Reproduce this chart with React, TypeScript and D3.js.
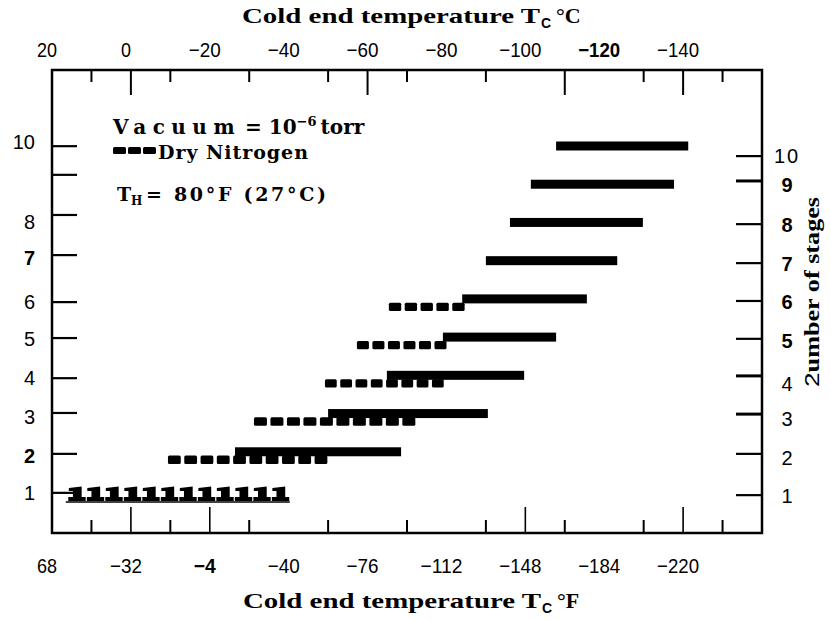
import React from 'react';
import * as d3 from 'd3';

// stage bars, temperatures in deg C
const vacStages = [2, 3, 4, 5, 6, 7, 8, 9, 10];
const vacStart = [-26.4, -50, -64.9, -79.1, -84, -90, -96.1, -101.4, -107.8];
const vacEnd = [-68.5, -90.5, -99.7, -107.8, -115.6, -123.3, -129.8, -137.7, -141.3];

const n2Stages = [2, 3, 4, 5, 6];
const n2Start = [-9.4, -31.2, -49.2, -57.3, -65.4];
const n2End = [-50.7, -73, -80.2, -80.9, -85.5];

const oneStage = [1];
const oneStart = [16];
const oneEnd = [-40.3];

// axes
const topLabels = [20, 0, -20, -40, -60, -80, -100, -120, -140];
const bottomLabels = ['68', '\u221232', '\u22124', '\u221240', '\u221276', '\u2212112', '\u2212148', '\u2212184', '\u2212220'];
const topTicksLong = [0, -60, -110, -140];
const topTicksShort = [10, -10, -30, -50, -70, -90, -130, -150];
const bottomTicksLong = [0, -20, -100, -140];
const bottomTicksShort = [10, -10, -30, -50, -70, -90, -110, -130, -150];

const leftTicks = [10.1, 9.35, 8.3, 7.25, 6.02, 5.08, 4.03, 3.12, 2.05, 1.03];
const leftLabels = ['10', '8', '7', '6', '5', '4', '3', '2', '1'];
const leftLabelPos = [10.22, 8.13, 7.19, 6.03, 5.06, 4.05, 3.02, 2.0, 1.04];
const leftBold = ['7', '2'];

const rightTicks = [9.84, 9.19, 8.06, 7.04, 6.05, 5.06, 4.09, 3.09, 2.05, 0.97];
const rightLabels = ['10', '9', '8', '7', '6', '5', '4', '3', '2', '1'];
const rightLabelPos = [9.84, 9.09, 8.04, 7.02, 6.02, 5.0, 3.88, 2.96, 1.94, 0.95];
const rightBold = ['9', '8', '7', '6', '5'];

const fmt = (v: number) => (v < 0 ? '\u2212' + -v : String(v));
// narrow look of the printed numbers
const numWidth = (s: string) => s.split('').reduce((a, c) => a + (c === '\u2212' ? 12 : 10), 0);

const App = () => {
  const width = 831;
  const height = 621;
  const left = 52, right = 762, top = 70, bottom = 533;

  const x = d3.scaleLinear().domain([20, -160]).range([left, right]);
  const y = d3.scaleLinear().domain([1, 10]).range([494, 150]);

  const sans = 'Liberation Sans, Arial, sans-serif';
  const serif = 'Liberation Serif, Times New Roman, serif';
  const legendFont = 'DejaVu Serif, serif';

  // dashed (dry nitrogen) bars as blocks
  const dashBlocks: { x: number; y: number; w: number }[] = [];
  n2Stages.forEach((s, i) => {
    const x0 = x(n2Start[i]);
    const x1 = x(n2End[i]);
    const n = Math.max(1, Math.round((x1 - x0) / 16.3));
    const p = (x1 - x0) / n;
    d3.range(n).forEach((k) => dashBlocks.push({ x: x0 + k * p, y: y(s) + 4, w: p - 3.5 }));
  });

  // single stage: row of "1" glyph shapes
  const glyphs: { x: number; y: number; w: number }[] = [];
  oneStage.forEach((s, i) => {
    const x0 = x(oneStart[i]);
    const x1 = x(oneEnd[i]);
    const n = 12;
    const p = (x1 - x0) / n;
    d3.range(n).forEach((k) => glyphs.push({ x: x0 + k * p, y: y(s), w: p }));
  });
  const glyphPath = (g: { x: number; y: number; w: number }) => {
    const s = g.w / 18;
    const x0 = g.x, y0 = g.y - 7.5;
    const pts: [number, number][] = [
      [1, 1.5], [13.5, 0], [13.5, 10.5], [17.4, 10.5], [17.4, 14.5], [0.5, 14.5], [0.5, 10.5], [5, 10.5], [5, 4.5], [1, 4.5],
    ];
    return 'M' + pts.map(([a, b]) => `${x0 + a * s},${y0 + b}`).join('L') + 'Z';
  };

  return (
    <svg width={width} height={height} style={{ position: 'absolute', left: 0, top: 0, background: '#fff' }}>
      {/* titles */}
      <text x={242} y={23} fontFamily={serif} fontWeight="bold" fontSize={22} textLength={298} lengthAdjust="spacingAndGlyphs">
        Cold  end  temperature  T
      </text>
      <text x={541} y={28} fontFamily={sans} fontWeight="bold" fontSize={14}>C</text>
      <text x={556} y={23} fontFamily={serif} fontWeight="bold" fontSize={22}>°C</text>

      <text x={243} y={608} fontFamily={serif} fontWeight="bold" fontSize={22} textLength={298} lengthAdjust="spacingAndGlyphs">
        Cold  end  temperature  T
      </text>
      <text x={542} y={613} fontFamily={sans} fontWeight="bold" fontSize={14}>C</text>
      <text x={557} y={608} fontFamily={serif} fontWeight="bold" fontSize={22}>°F</text>

      {/* frame */}
      <rect x={left} y={top} width={right - left} height={bottom - top} fill="none" stroke="#000" strokeWidth={2.5} />

      {/* top ticks */}
      {topTicksLong.map((t) => (
        <line key={'tl' + t} x1={x(t)} x2={x(t)} y1={top} y2={top + 25} stroke="#000" strokeWidth={2} />
      ))}
      {topTicksShort.map((t) => (
        <line key={'ts' + t} x1={x(t)} x2={x(t)} y1={top} y2={top + 12} stroke="#000" strokeWidth={2} />
      ))}
      {/* bottom ticks */}
      {bottomTicksLong.map((t) => (
        <line key={'bl' + t} x1={x(t)} x2={x(t)} y1={bottom} y2={bottom - 26} stroke="#000" strokeWidth={1.6} />
      ))}
      {bottomTicksShort.map((t) => (
        <line key={'bs' + t} x1={x(t)} x2={x(t)} y1={bottom} y2={bottom - 13} stroke="#000" strokeWidth={2} />
      ))}

      {/* top labels */}
      {topLabels.map((t) => (
        <text key={'tt' + t} x={x(t) - 5} y={57} textAnchor="middle" fontFamily={sans} fontSize={21}
          fontWeight={t === -120 ? 'bold' : 'normal'} textLength={numWidth(fmt(t))} lengthAdjust="spacingAndGlyphs">
          {fmt(t)}
        </text>
      ))}
      {/* bottom labels (printed F values) */}
      {bottomLabels.map((l, i) => (
        <text key={'bt' + i} x={x(topLabels[i]) - 5} y={573} textAnchor="middle" fontFamily={sans} fontSize={21}
          fontWeight={l === '\u22124' ? 'bold' : 'normal'} textLength={numWidth(l)} lengthAdjust="spacingAndGlyphs">
          {l}
        </text>
      ))}

      {/* left axis */}
      {leftTicks.map((s, i) => (
        <line key={'lt' + i} x1={left} x2={left + 25} y1={y(s)} y2={y(s)} stroke="#000" strokeWidth={2.2} />
      ))}
      {leftLabels.map((l, i) => (
        <text key={'ll' + i} x={35} y={y(leftLabelPos[i])} dy="0.36em" textAnchor="end" fontFamily={sans} fontSize={20}
          fontWeight={leftBold.includes(l) ? 'bold' : 'normal'}>
          {l}
        </text>
      ))}

      {/* right axis */}
      {rightTicks.map((s, i) => (
        <line key={'rt' + i} x1={right - 26} x2={right} y1={y(s)} y2={y(s)} stroke="#000"
          strokeWidth={i === 1 || i === 6 || i === 7 ? 3 : 2.2} />
      ))}
      {rightLabels.map((l, i) => (
        <text key={'rl' + i} x={787} y={y(rightLabelPos[i])} dy="0.36em" textAnchor="middle" fontFamily={sans} fontSize={20}
          fontWeight={rightBold.includes(l) ? 'bold' : 'normal'} letterSpacing={l === '10' ? 2 : 0}>
          {l}
        </text>
      ))}
      <text transform="translate(812,292) rotate(-90)" textAnchor="middle" dy="0.35em" fontFamily={serif}
        fontWeight="bold" fontSize={21} textLength={190} lengthAdjust="spacingAndGlyphs">
        <tspan fontFamily={sans} fontWeight="normal">2</tspan>umber of stages
      </text>

      {/* vacuum bars */}
      {vacStages.map((s, i) => (
        <rect key={'v' + s} x={x(vacStart[i])} y={y(s) - 4 - 4.5} width={x(vacEnd[i]) - x(vacStart[i])} height={9} fill="#000" />
      ))}
      {/* dry nitrogen bars */}
      {dashBlocks.map((b, i) => (
        <rect key={'d' + i} x={b.x} y={b.y - 4.2} width={b.w} height={8.4} rx={1.5} fill="#000" />
      ))}
      {/* single stage */}
      {glyphs.map((g, i) => (
        <path key={'g' + i} d={glyphPath(g)} fill="#000" />
      ))}
      {oneStage.map((s, i) => (
        <line key={'u' + s} x1={x(oneStart[i]) - 2} x2={x(oneEnd[i])} y1={y(s) + 8} y2={y(s) + 8} stroke="#000" strokeWidth={1.3} />
      ))}

      {/* legend */}
      <text x={113} y={134} fontFamily={legendFont} fontWeight="bold" fontSize={20}>
        <tspan letterSpacing={6.5}>Vacuum</tspan>
        <tspan dx={4}>= 10</tspan>
        <tspan fontSize={13} dy={-8}>{'\u22126'}</tspan>
        <tspan dy={8} dx={4}>torr</tspan>
      </text>
      {d3.range(3).map((k) => (
        <rect key={'ld' + k} x={113 + k * 15} y={147} width={13} height={7} rx={1.5} fill="#000" />
      ))}
      <text x={158} y={159} fontFamily={legendFont} fontWeight="bold" fontSize={19} textLength={150} lengthAdjust="spacing">
        Dry Nitrogen
      </text>
      <text x={117} y={201} fontFamily={legendFont} fontWeight="bold" fontSize={19}>T</text>
      <text x={131} y={205} fontFamily={legendFont} fontWeight="bold" fontSize={12}>H</text>
      <text x={146} y={201} fontFamily={legendFont} fontWeight="bold" fontSize={19} textLength={180} lengthAdjust="spacing">
        = 80°F (27°C)
      </text>
    </svg>
  );
};

export default App;
